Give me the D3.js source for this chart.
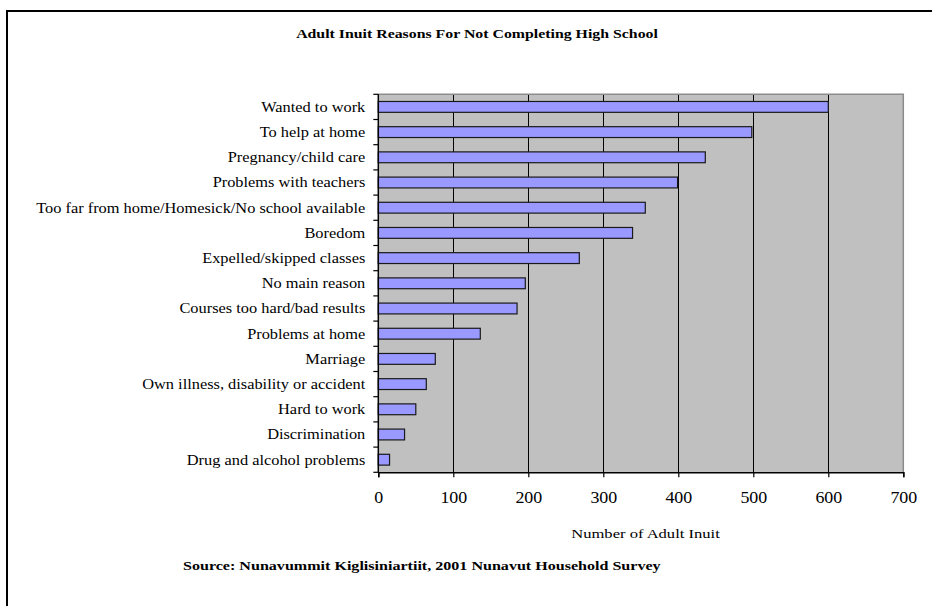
<!DOCTYPE html>
<html>
<head>
    <meta charset="utf-8">
    <title>Adult Inuit Reasons</title>
    <script type="text/javascript" src="https://cdn.jsdelivr.net/npm/d3@7/dist/d3.min.js"></script>
    <style>
        body { margin: 0; background: #fff; }
        text { font-family: "Liberation Serif", "Times New Roman", serif; fill: #000; }
    </style>
</head>
<body>
<script type="text/javascript">
// data
let reasons = [
    'Wanted to work',
    'To help at home',
    'Pregnancy/child care',
    'Problems with teachers',
    'Too far from home/Homesick/No school available',
    'Boredom',
    'Expelled/skipped classes',
    'No main reason',
    'Courses too hard/bad results',
    'Problems at home',
    'Marriage',
    'Own illness, disability or accident',
    'Hard to work',
    'Discrimination',
    'Drug and alcohol problems'
]
let counts = [600, 498, 436, 399, 356, 339, 268, 196, 185, 136, 76, 64, 50, 35, 15]
let xTicks = [0, 100, 200, 300, 400, 500, 600, 700]

let chartTitle = 'Adult Inuit Reasons For Not Completing High School'
let xTitle = 'Number of Adult Inuit'
let sourceNote = 'Source: Nunavummit Kiglisiniartiit, 2001 Nunavut Household Survey'

let width = 932,
    height = 606,
    plot = {left: 378.3, right: 903.3, top: 94.3, bottom: 472.3}

let svg = d3.select('body').append('svg')
    .attr('width', width)
    .attr('height', height)

// outer frame, runs off the right and bottom of the picture
svg.append('rect')
    .attr('x', 7).attr('y', 11)
    .attr('width', 1000).attr('height', 1000)
    .attr('fill', 'none')
    .attr('stroke', '#000')
    .attr('stroke-width', 2)

let x = d3.scaleLinear()
    .domain([0, 700])
    .range([plot.left, plot.right])

let y = d3.scaleBand()
    .domain(reasons)
    .range([plot.top, plot.bottom])
    .paddingInner(0.57)
    .paddingOuter(0.285)

// grey plot area
svg.append('rect')
    .attr('x', plot.left).attr('y', plot.top)
    .attr('width', plot.right - plot.left)
    .attr('height', plot.bottom - plot.top)
    .attr('fill', '#c0c0c0')

// vertical gridlines
svg.append('g')
    .selectAll('line')
    .data(xTicks.slice(1, -1))
    .join('line')
    .attr('x1', d => Math.round(x(d)) + 0.5)
    .attr('x2', d => Math.round(x(d)) + 0.5)
    .attr('y1', plot.top)
    .attr('y2', plot.bottom)
    .attr('stroke', '#000')
    .attr('stroke-width', 1)

// grey border top & right
svg.append('path')
    .attr('d', `M${plot.left},${plot.top}H${plot.right}V${plot.bottom}`)
    .attr('fill', 'none')
    .attr('stroke', '#8c8c8c')
    .attr('stroke-width', 1.5)

// bars
svg.append('g')
    .selectAll('rect')
    .data(counts)
    .join('rect')
    .attr('x', x(0))
    .attr('y', (d, i) => y(reasons[i]))
    .attr('width', d => x(d) - x(0))
    .attr('height', y.bandwidth())
    .attr('fill', '#9999ff')
    .attr('stroke', '#1a1a1a')
    .attr('stroke-width', 1.2)

// left axis: line + category ticks at band edges
let bandEdges = reasons.map(r => y(r) - y.step() * y.paddingInner() / 2)
bandEdges.push(plot.bottom)
let yAxis = svg.append('g')
yAxis.append('line')
    .attr('x1', plot.left).attr('x2', plot.left)
    .attr('y1', plot.top).attr('y2', plot.bottom)
    .attr('stroke', '#000').attr('stroke-width', 1.5)
yAxis.selectAll('line.tick')
    .data(bandEdges)
    .join('line')
    .classed('tick', true)
    .attr('x1', plot.left - 5).attr('x2', plot.left)
    .attr('y1', d => d).attr('y2', d => d)
    .attr('stroke', '#000').attr('stroke-width', 1.2)

yAxis.selectAll('text')
    .data(reasons)
    .join('text')
    .attr('transform', d => `translate(${plot.left - 13},${y(d) + y.bandwidth() / 2 + 4.8}) scale(1.17,1)`)
    .attr('text-anchor', 'end')
    .style('font-size', '14px')
    .text(d => d)

// bottom axis
let xAxis = d3.axisBottom(x)
    .tickValues(xTicks)
    .tickSize(5)
    .tickPadding(14)
    .tickFormat(d3.format('d'))

let gx = svg.append('g')
    .attr('transform', `translate(0,${plot.bottom})`)
    .call(xAxis)
gx.select('.domain').attr('stroke', '#000').attr('stroke-width', 1.5)
gx.selectAll('.tick line').attr('stroke', '#000').attr('stroke-width', 1.2)
gx.selectAll('.tick text')
    .attr('fill', '#000')
    .attr('font-family', null)
    .attr('font-size', null)
    .style('font-size', '16px')
    .attr('transform', 'scale(1.12,1)')

// titles
svg.append('text')
    .attr('transform', `translate(477,38) scale(1.32,1)`)
    .attr('text-anchor', 'middle')
    .style('font-size', '12px')
    .style('font-weight', 'bold')
    .text(chartTitle)

svg.append('text')
    .attr('transform', `translate(645.5,538) scale(1.38,1)`)
    .attr('text-anchor', 'middle')
    .style('font-size', '12px')
    .text(xTitle)

svg.append('text')
    .attr('transform', `translate(183,570) scale(1.34,1)`)
    .attr('text-anchor', 'start')
    .style('font-size', '12px')
    .style('font-weight', 'bold')
    .text(sourceNote)
</script>
</body>
</html>
